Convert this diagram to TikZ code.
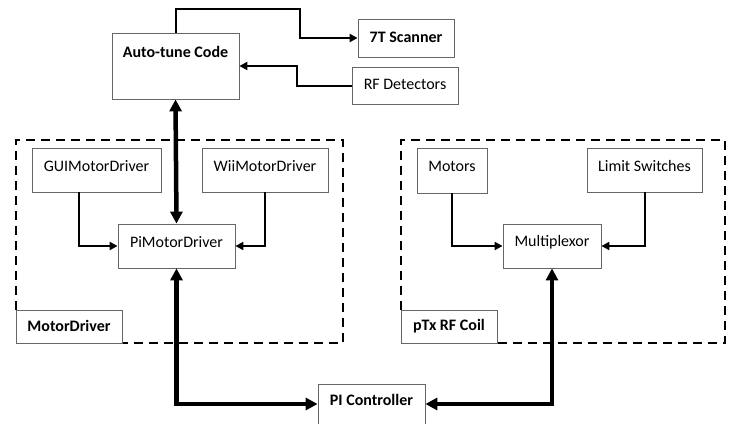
\documentclass[tikz,border=0pt]{standalone}
\usepackage{fontspec}
\setmainfont{Carlito}
\usetikzlibrary{arrows.meta}
\begin{document}
\begin{tikzpicture}[x=1pt,y=-1pt,
  box/.style={draw=black!60, line width=0.8pt, fill=white, inner sep=0pt},
  txt/.style={font=\fontsize{16}{19}\selectfont, inner sep=0pt},
  btxt/.style={font=\fontsize{16}{19}\selectfont\bfseries, inner sep=0pt},
  conn/.style={line width=2pt, -{Triangle[length=8pt,width=8pt]}},
  bus/.style={line width=4.5pt, {Triangle[length=12pt,width=12pt]}-{Triangle[length=12pt,width=12pt]}},
  group/.style={line width=2.5pt, dash pattern=on 9pt off 6pt}
]
\useasboundingbox (0,0) rectangle (733,423);

% group outlines
\coordinate (mdA) at (16,310);
\coordinate (mdB) at (16,140);
\coordinate (mdC) at (343,140);
\coordinate (mdD) at (343,343);
\coordinate (mdE) at (16,343);
\draw[group] (mdA) -- (mdB) -- (mdC) -- (mdD) -- (mdE);
\coordinate (rfA) at (401,310);
\coordinate (rfB) at (401,140);
\coordinate (rfC) at (725,140);
\coordinate (rfD) at (725,343);
\coordinate (rfE) at (401,343);
\draw[group] (rfA) -- (rfB) -- (rfC) -- (rfD) -- (rfE);

% boxes
\node[box, minimum width=127pt, minimum height=66pt] (auto) at (175.5,66) {};
\node[btxt] (autoT) at (175.5,52) {Auto-tune Code};
\node[box, minimum width=96pt, minimum height=38pt] (scan) at (406,38) {};
\node[btxt] (scanT) at (406,37) {7T Scanner};
\node[box, minimum width=106pt, minimum height=37pt] (rfd) at (405,85.5) {};
\node[txt] (rfdT) at (405,84) {RF Detectors};

\node[box, minimum width=129pt, minimum height=44pt] (gui) at (96.5,170) {};
\node[txt] (guiT) at (96.5,166) {GUIMotorDriver};
\node[box, minimum width=126pt, minimum height=44pt] (wii) at (265,170) {};
\node[txt] (wiiT) at (265,166) {WiiMotorDriver};
\node[box, minimum width=117pt, minimum height=44pt] (pi) at (176.5,246) {};
\node[txt] (piT) at (176.5,242) {PiMotorDriver};
\node[box, minimum width=106pt, minimum height=33pt] (mdl) at (69,326.5) {};
\node[btxt] (mdlT) at (69,326) {MotorDriver};

\node[box, minimum width=70pt, minimum height=45pt] (mot) at (452,170.5) {};
\node[txt] (motT) at (452,166) {Motors};
\node[box, minimum width=115pt, minimum height=44pt] (lim) at (644.5,170) {};
\node[txt] (limT) at (644.5,166) {Limit Switches};
\node[box, minimum width=98pt, minimum height=44pt] (mux) at (552,246) {};
\node[txt] (muxT) at (552,242) {Multiplexor};
\node[box, minimum width=96pt, minimum height=33pt] (ptx) at (449,326.5) {};
\node[btxt] (ptxT) at (449,326) {pTx RF Coil};

\node[box, minimum width=107pt, minimum height=40pt] (pic) at (371.5,404) {};
\node[btxt] (picT) at (371.5,400) {PI Controller};

% signal links
\coordinate (s1) at (300,9);
\draw[conn] (auto.north) |- (s1) |- (scan.west);
\coordinate (s2) at (297,66);
\draw[conn] (rfd.west) -| (s2) -- (auto.east);
\draw[conn] ([xshift=-17.5pt]gui.south) |- (pi.west);
\draw[conn] (wii.south) |- (pi.east);
\draw[conn] (mot.south) |- (mux.west);
\draw[conn] (lim.south) |- (mux.east);

% main buses
\draw[bus] (auto.south) -- (pi.north);
\draw[bus] (pi.south) |- (pic.west);
\draw[bus] (mux.south) |- (pic.east);
\end{tikzpicture}
\end{document}
